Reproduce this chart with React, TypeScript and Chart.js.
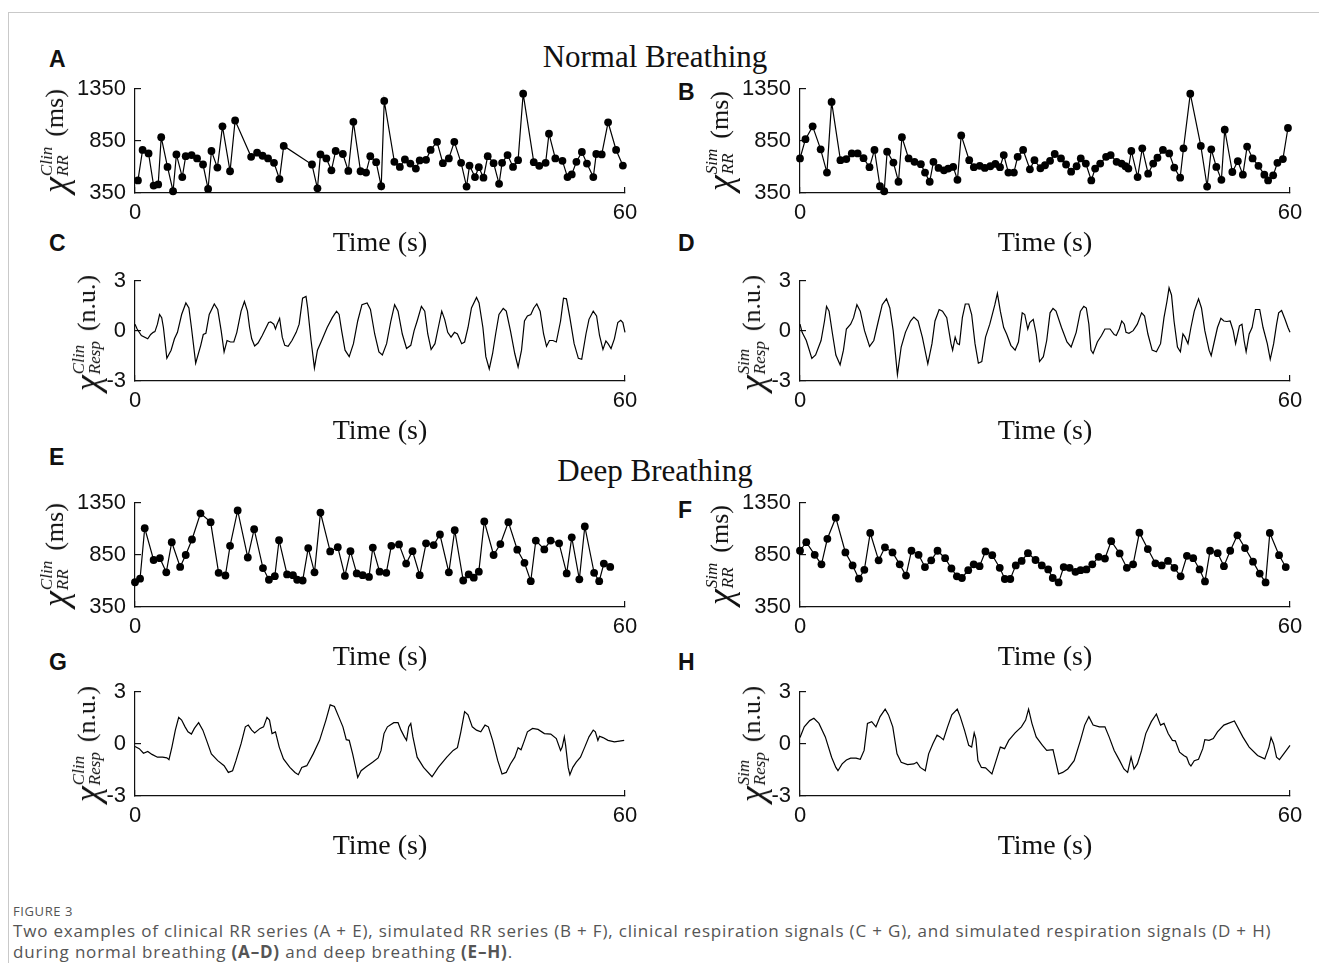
import React, { useEffect, useRef } from "react";
import { Chart, registerables } from "chart.js";

Chart.register(...registerables);

const SERIF = "'Liberation Serif', 'Times New Roman', serif";
const SANS = "'Liberation Sans', Arial, Helvetica, sans-serif";
const INK = "#111111";

// ---------- axes ----------
const X_TICKS = [0, 60];
const RR_TICKS = [350, 850, 1350];
const RESP_TICKS = [-3, 0, 3];
const X_TITLE = "Time (s)";

// ---------- A: clinical RR, normal breathing ----------
const A_TIME = [0.36,0.93,1.66,2.28,2.84,3.21,3.98,4.66,5.07,5.79,
6.21,6.93,7.60,8.33,8.95,9.36,10.09,10.71,11.64,12.26,
14.22,14.95,15.62,16.29,17.02,17.69,18.21,21.67,22.34,22.71,
23.43,24.05,24.57,25.45,26.12,26.74,27.62,28.29,28.81,29.53,
30.15,30.52,31.76,32.43,33.05,33.72,34.39,34.86,35.64,36.20,
36.98,37.70,38.43,39.10,39.93,40.60,40.96,41.63,42.10,42.67,
43.19,43.91,44.58,44.95,45.62,46.29,46.91,47.53,48.83,49.50,
50.28,50.69,51.47,52.34,52.96,53.48,54.05,54.72,55.34,56.12,
56.48,57.15,57.93,58.91,59.74];
const A_RR = [471,764,731,421,432,887,601,367,721,503,
704,715,682,624,389,754,594,991,559,1047,
698,738,708,682,640,484,803,624,395,721,
682,568,754,725,562,1034,559,546,704,646,
415,1235,650,601,672,633,585,663,669,764,
842,637,682,842,640,412,614,503,598,497,
704,637,438,640,715,601,666,1305,646,611,
640,920,682,659,503,529,650,744,633,503,
725,721,1030,764,614];

// ---------- B: simulated RR, normal breathing ----------
const B_TIME = [0.00,0.67,1.55,2.53,3.30,3.87,4.95,5.67,6.34,7.06,
7.78,8.51,9.12,9.79,10.31,10.67,11.44,12.06,12.48,13.30,
14.02,14.80,15.31,15.88,16.34,16.96,17.63,18.15,18.76,19.28,
19.74,20.72,21.29,22.01,22.63,23.30,23.92,24.49,24.95,25.52,
26.19,26.65,27.32,28.15,28.71,29.44,30.00,30.62,31.19,31.96,
32.58,33.20,33.87,34.38,35.00,35.67,36.14,36.76,37.48,38.04,
38.77,39.38,39.85,40.21,40.57,41.34,41.91,42.63,43.25,43.77,
44.44,45.21,45.83,46.55,46.96,47.79,49.08,49.85,50.36,50.98,
51.60,52.01,52.94,53.61,54.23,54.75,55.42,56.14,56.86,57.32,
57.94,58.46,59.13,59.75];
const B_RR = [682,868,991,770,546,1226,666,676,731,731,
685,598,764,415,367,747,643,458,887,682,
650,627,546,458,650,591,568,585,601,477,
904,666,598,611,591,607,630,598,715,546,
546,698,764,578,666,588,617,659,725,682,
624,555,607,682,633,471,585,633,698,715,
650,633,607,585,754,503,780,536,633,689,
764,731,594,497,780,1305,803,412,770,601,
477,959,552,656,526,796,682,611,526,471,
520,640,676,975];

// ---------- C: clinical respiration, normal breathing ----------
const C_TIME = [0.00,0.26,0.78,1.56,1.92,2.23,2.44,2.75,3.01,3.27,
3.48,3.90,4.42,4.83,5.20,5.71,6.23,6.60,6.91,7.43,
8.05,8.36,8.68,9.09,9.71,10.13,10.55,10.91,11.27,11.69,
12.10,12.47,12.99,13.40,13.77,14.03,14.29,14.65,15.07,15.58,
16.36,16.62,16.99,17.20,17.40,17.71,18.03,18.34,18.75,19.22,
19.74,20.10,20.52,20.94,21.14,21.56,21.97,22.34,22.86,23.53,
24.16,24.68,24.99,25.30,25.72,26.23,26.75,27.27,27.79,28.42,
28.83,29.35,29.87,30.29,30.81,31.33,31.79,32.21,32.73,33.25,
33.77,34.18,34.55,35.07,35.48,35.85,36.26,36.73,37.14,37.56,
37.92,38.29,38.70,39.12,39.48,40.00,40.36,40.78,41.20,41.82,
42.13,42.60,42.96,43.38,43.79,44.16,44.57,45.09,45.46,45.97,
46.50,46.91,47.33,47.69,48.05,48.47,48.83,49.20,49.61,50.03,
50.39,50.75,51.17,51.59,52.11,52.47,52.83,53.25,53.77,54.29,
54.70,55.22,55.59,56.11,56.52,56.88,57.30,57.66,57.92,58.29,
58.70,59.12,59.48,59.74,60.00];
const C_RESP = [0.41,0.12,-0.27,-0.47,-0.21,-0.08,-0.04,0.41,0.99,0.80,
0.21,-1.64,-1.15,-0.47,-0.08,0.99,1.68,1.38,0.21,-1.93,
-0.86,-0.21,-0.14,0.99,1.62,1.29,0.02,-1.25,-0.57,-0.66,
-0.66,-0.08,1.19,1.77,1.19,0.21,-0.47,-0.90,-0.72,-0.27,
0.51,0.55,0.41,0.12,0.41,0.76,-0.37,-0.86,-0.92,-0.57,
-0.08,0.41,1.97,2.07,1.38,-0.57,-2.22,-1.15,-0.57,0.21,
0.80,1.19,0.99,0.02,-1.15,-1.54,-0.76,0.60,1.58,1.68,
1.29,-0.18,-1.25,-1.44,-0.76,0.60,1.58,1.19,-0.18,-1.05,
-0.86,0.02,0.60,1.48,1.19,-0.18,-1.11,-0.76,0.21,1.19,
0.70,-0.08,-0.37,-0.08,-0.18,-0.76,-0.66,0.21,1.38,2.01,
1.68,0.21,-1.54,-2.28,-1.35,-0.18,0.99,1.35,1.19,0.02,
-1.35,-2.16,-1.15,0.60,0.90,0.99,1.38,1.62,1.19,-0.18,
-0.92,-0.57,-0.57,-0.66,0.60,1.97,1.93,0.80,-0.76,-1.64,
-1.70,-0.18,0.70,1.19,0.90,-0.27,-1.11,-0.60,-0.76,-1.05,
-0.47,0.51,0.64,0.51,-0.08];

// ---------- D: simulated respiration, normal breathing ----------
const D_TIME = [0.00,0.26,0.77,1.45,1.91,2.58,3.00,3.25,3.56,3.98,
4.39,4.91,5.32,5.68,6.20,6.56,6.97,7.38,7.90,8.52,
9.04,9.55,10.07,10.59,11.00,11.41,11.93,12.39,12.91,13.53,
13.94,14.46,14.98,15.65,16.16,16.53,17.04,17.45,17.97,18.49,
18.69,19.00,19.26,19.52,19.88,20.24,20.66,21.02,21.43,21.84,
22.26,22.72,23.24,23.86,24.17,24.53,24.94,25.30,25.82,26.34,
26.75,27.21,27.52,27.89,28.14,28.56,28.92,29.33,29.80,30.21,
30.62,30.98,31.35,32.02,32.69,33.20,33.82,34.34,34.75,35.06,
35.37,35.63,35.89,36.41,36.92,37.34,37.96,38.47,38.73,39.09,
39.40,39.71,39.92,40.28,40.80,41.31,41.83,42.19,42.60,43.12,
43.64,44.15,44.57,44.93,45.19,45.49,45.80,46.22,46.58,46.89,
47.15,47.51,47.87,48.28,48.80,49.16,49.57,50.09,50.35,50.76,
51.12,51.54,51.90,52.26,52.67,53.04,53.34,53.81,54.12,54.38,
54.63,55.00,55.36,55.77,56.29,56.70,57.22,57.58,58.00,58.36,
58.61,58.97,59.39,59.75,60.00];
const D_RESP = [0.41,-0.08,-0.57,-1.64,-1.44,-0.57,0.60,1.48,1.19,-0.18,
-1.44,-2.03,-1.15,0.12,0.41,0.80,1.58,1.19,0.02,-0.92,
-0.57,0.51,1.58,1.93,1.38,0.02,-2.61,-0.96,-0.08,0.60,
0.84,0.60,-0.37,-1.97,-0.76,0.60,1.29,1.19,0.80,-0.76,
-1.15,-0.37,-0.76,-0.82,0.80,1.62,1.62,0.99,-0.76,-1.93,
-1.83,-0.37,0.41,1.58,2.26,1.19,0.21,-0.18,-0.86,-1.15,
-0.66,1.09,0.99,0.12,0.51,0.70,-0.18,-1.83,-1.54,-0.57,
1.09,1.35,1.19,0.21,-0.66,-0.96,-0.08,1.19,1.48,1.38,
0.41,-1.15,-1.35,-0.66,-0.27,0.12,0.12,-0.21,-0.27,0.12,
0.60,0.41,-0.08,-0.14,0.02,0.41,1.09,0.90,-0.18,-1.15,
-1.25,-0.76,0.80,1.77,2.59,2.16,0.60,-0.96,-1.25,-0.18,
-0.37,-0.76,0.21,1.19,1.93,1.38,0.02,-1.15,-1.48,-0.57,
0.21,0.76,0.60,0.57,0.60,0.02,-0.76,0.31,0.41,-0.57,
-1.25,-0.18,0.21,1.29,1.29,0.21,-0.76,-1.70,-0.76,0.41,
1.09,1.23,0.70,0.21,-0.08];

// ---------- E: clinical RR, deep breathing ----------
const E_TIME = [0.00,0.62,1.19,2.28,3.05,3.83,4.50,5.53,6.21,6.98,
8.02,9.26,10.24,11.07,11.64,12.57,13.81,14.59,15.67,16.40,
17.12,17.64,18.62,19.34,19.86,20.53,21.21,21.98,22.71,23.90,
24.83,25.70,26.38,27.15,27.88,28.65,29.12,29.95,30.77,31.39,
32.33,33.20,33.98,34.86,35.64,36.57,37.34,38.43,39.15,40.19,
40.86,41.48,42.10,42.77,43.91,44.74,45.72,46.81,47.69,48.46,
49.08,50.12,50.89,51.93,52.86,53.48,54.41,55.08,56.22,56.84,
57.41,58.19];
const E_RR = [588,622,1108,802,819,683,973,735,850,999,
1251,1166,679,653,938,1278,826,1098,724,612,
646,993,663,656,612,605,917,683,1258,884,
925,649,887,673,656,639,921,690,679,938,
952,768,887,656,962,945,1047,683,1088,605,
663,632,690,1173,850,955,1166,901,775,598,
989,904,989,962,673,1020,616,1125,679,598,
768,735];

// ---------- F: simulated RR, deep breathing ----------
const F_TIME = [0.00,0.77,1.80,2.63,3.35,4.38,5.56,6.44,7.21,7.88,
8.60,9.63,10.40,11.33,12.21,12.98,13.65,14.52,15.30,16.07,
16.84,17.77,18.54,19.21,19.83,20.60,21.27,21.99,22.71,23.54,
24.46,25.08,25.75,26.42,27.14,27.91,28.84,29.61,30.39,30.95,
31.67,32.29,33.01,33.73,34.35,35.07,35.79,36.57,37.34,38.11,
39.14,40.02,40.79,41.56,42.59,43.52,44.29,45.06,45.84,46.61,
47.38,48.15,48.93,49.59,50.21,51.14,51.91,52.68,53.56,54.49,
55.47,56.29,57.01,57.53,58.66,59.48];
const F_RR = [891,973,852,760,1006,1209,875,750,622,707,
1062,799,924,875,760,652,891,852,734,799,
891,819,720,645,629,704,760,743,884,848,
727,619,619,750,793,868,802,750,711,629,
586,734,727,688,704,711,760,832,816,983,
865,727,760,1065,907,770,750,793,727,645,
842,819,711,596,891,868,743,891,1039,917,
786,671,586,1062,848,734];

// ---------- G: clinical respiration, deep breathing ----------
const G_TIME = [0.00,0.52,1.04,1.56,2.08,2.75,3.38,3.90,4.16,4.52,
4.94,5.35,5.71,6.13,6.49,6.91,7.27,7.79,8.31,8.83,
9.35,10.13,10.91,11.43,11.95,12.36,12.99,13.51,13.87,14.29,
14.65,15.32,15.74,16.16,16.47,16.78,17.20,17.66,18.18,18.96,
19.59,20.00,20.42,21.04,21.82,22.60,23.38,23.90,24.42,24.94,
25.46,25.87,26.23,26.65,27.01,27.27,27.69,28.31,29.09,29.77,
30.13,30.49,30.91,31.69,32.21,32.57,32.99,33.25,33.51,33.77,
34.03,34.55,35.33,36.37,37.14,38.18,38.96,39.48,39.90,40.36,
40.78,41.30,41.82,42.34,42.86,43.27,43.79,44.42,44.94,45.46,
45.97,46.50,46.91,47.27,47.69,48.05,48.68,49.35,50.13,50.91,
51.59,52.11,52.31,52.57,52.73,53.04,53.25,53.61,54.03,54.55,
55.07,55.59,56.11,56.37,56.68,56.88,57.30,57.92,58.70,59.90];
const G_RESP = [-0.14,-0.27,-0.53,-0.43,-0.60,-0.76,-0.76,-0.80,-0.90,-0.18,
0.80,1.54,1.38,0.99,0.70,0.57,0.90,1.23,0.80,0.12,
-0.57,-0.96,-1.25,-1.64,-1.54,-0.96,0.02,0.99,1.09,0.80,
0.64,0.90,0.99,1.54,1.38,0.60,0.70,-0.18,-0.86,-1.35,
-1.64,-1.77,-1.35,-1.25,-0.57,0.21,1.38,2.26,2.16,1.58,
0.99,0.25,0.21,-0.57,-1.35,-1.93,-1.54,-1.31,-1.05,-0.80,
-0.37,0.60,0.99,1.23,1.23,0.80,0.41,0.21,0.99,1.19,
0.41,-0.76,-1.35,-1.89,-1.35,-0.76,-0.37,-0.21,0.70,1.87,
1.68,0.99,0.80,0.70,1.09,0.99,0.21,-0.96,-1.73,-1.64,
-1.15,-0.76,-0.21,-0.33,0.21,0.70,0.90,0.84,0.60,0.57,
0.31,-0.37,-0.18,0.41,-0.08,-1.35,-1.77,-1.35,-1.05,-0.76,
-0.18,0.41,0.80,0.70,0.21,0.45,0.37,0.21,0.12,0.21];

// ---------- H: simulated respiration, deep breathing ----------
const H_TIME = [0.00,0.52,1.19,1.70,2.32,3.10,3.87,4.39,4.65,5.16,
5.68,6.20,6.87,7.38,7.85,8.26,8.78,9.30,9.81,10.43,
10.84,11.36,11.88,12.39,13.17,13.94,14.30,14.72,15.34,15.75,
16.27,16.78,17.14,17.56,18.07,18.59,19.26,19.62,20.14,20.66,
21.02,21.33,21.53,21.79,22.21,22.72,23.50,24.01,24.53,25.05,
25.56,26.34,27.11,27.63,27.99,28.40,28.92,29.69,30.21,30.98,
31.24,31.66,32.17,32.79,33.57,34.34,34.86,35.37,35.89,36.66,
37.34,37.85,38.47,39.14,39.66,40.12,40.54,40.90,41.31,41.83,
42.34,43.02,43.64,44.15,44.57,45.08,45.60,45.96,46.48,46.99,
47.35,47.66,47.87,48.28,48.80,49.32,49.57,50.09,50.61,51.12,
51.90,53.19,54.22,55.00,56.03,56.91,57.42,57.68,57.99,58.35,
58.71,59.39,60.00];
const H_RESP = [0.37,0.99,1.35,1.48,1.19,0.41,-0.76,-1.35,-1.54,-1.15,
-0.92,-0.82,-0.82,-0.88,-0.37,1.19,1.29,0.99,1.58,2.01,
1.68,0.99,-0.57,-1.05,-1.19,-1.15,-1.05,-1.35,-1.54,-0.57,
0.02,0.51,0.41,0.25,0.99,1.68,2.01,1.58,0.80,-0.08,
-0.18,0.64,0.31,-0.96,-1.35,-1.38,-1.73,-0.96,-0.18,-0.27,
0.21,0.64,0.99,1.38,2.01,1.19,0.41,-0.08,-0.37,-0.33,
-0.86,-1.73,-1.64,-1.44,-0.96,0.21,1.09,1.58,1.09,0.99,
0.99,0.41,-0.37,-0.96,-1.44,-1.64,-0.76,-1.44,-1.15,-0.37,
0.60,1.29,1.73,1.09,1.19,0.60,0.21,0.18,-0.47,-0.66,
-0.76,-1.15,-1.27,-0.96,-0.88,-0.27,0.25,0.21,0.31,0.70,
1.09,1.33,0.41,-0.18,-0.66,-0.86,-0.18,0.37,0.02,-0.76,
-0.90,-0.47,-0.08];

// ---------- layout (page pixels) ----------
const PAD_L = 70; // room for y tick labels
const PAD_T = 32; // >= half label height + tick padding
const PAD_R = 32;
const X_BOX = 67; // x tick labels + title

type PanelProps = {
  left: number; top: number; width: number; height: number;
  t: number[]; v: number[]; markers: boolean;
  yTicks: number[];
};

function Panel({ left, top, width, height, t, v, markers, yTicks }: PanelProps) {
  const ref = useRef<HTMLCanvasElement | null>(null);
  const cw = width + PAD_L + PAD_R;
  const ch = height + PAD_T + X_BOX;
  useEffect(() => {
    if (!ref.current) return;
    const yMin = yTicks[0];
    const yMax = yTicks[yTicks.length - 1];
    const chart = new Chart(ref.current, {
      type: "scatter",
      data: {
        datasets: [
          {
            data: t.map((x, i) => ({ x, y: v[i] })),
            showLine: true,
            borderColor: "#000",
            borderWidth: 1.2,
            pointRadius: markers ? 3.9 : 0,
            pointHoverRadius: markers ? 3.9 : 0,
            pointBackgroundColor: "#000",
            pointBorderColor: "#000",
            pointBorderWidth: 0,
            tension: 0,
            clip: false,
          } as any,
        ],
      },
      options: {
        animation: false,
        responsive: false,
        maintainAspectRatio: false,
        events: [],
        layout: { padding: { left: 0, top: PAD_T, right: PAD_R, bottom: 0 } },
        plugins: { legend: { display: false }, tooltip: { enabled: false } },
        scales: {
          x: {
            type: "linear",
            min: 0,
            max: 60,
            afterBuildTicks: (s: any) => { s.ticks = X_TICKS.map((value) => ({ value })); },
            afterFit: (s: any) => { s.height = X_BOX; },
            grid: { drawOnChartArea: false, drawTicks: true, tickLength: -6, color: INK, lineWidth: 1.2 },
            border: { display: true, color: INK, width: 1.2 },
            ticks: {
              padding: 13,
              autoSkip: false,
              maxRotation: 0,
              color: INK,
              font: { family: SANS, size: 22 },
              callback: (val: any) => String(val),
            },
            title: {
              display: true,
              text: X_TITLE,
              color: INK,
              font: { family: SERIF, size: 28 },
              padding: { top: 0, bottom: 0 },
            },
          },
          y: {
            type: "linear",
            min: yMin,
            max: yMax,
            afterBuildTicks: (s: any) => { s.ticks = yTicks.map((value) => ({ value })); },
            afterFit: (s: any) => { s.width = PAD_L; },
            grid: { drawOnChartArea: false, drawTicks: true, tickLength: -6, color: INK, lineWidth: 1.2 },
            border: { display: true, color: INK, width: 1.2 },
            ticks: {
              padding: 15,
              autoSkip: false,
              color: INK,
              font: { family: SANS, size: 22 },
              callback: (val: any) => String(val),
            },
          },
        },
      } as any,
    });
    return () => chart.destroy();
  }, []);
  return (
    <div style={{ position: "absolute", left: left - PAD_L, top: top - PAD_T, width: cw, height: ch }}>
      <canvas ref={ref} width={cw} height={ch} style={{ width: cw, height: ch, display: "block" }} />
    </div>
  );
}

function YTitle({ cx, cy, sup, sub, unit }: { cx: number; cy: number; sup: string; sub: string; unit: string }) {
  return (
    <div
      style={{
        position: "absolute",
        left: cx,
        top: cy,
        transform: "translate(-50%, -50%) rotate(-90deg)",
        whiteSpace: "nowrap",
        fontFamily: SERIF,
        color: INK,
        display: "flex",
        alignItems: "center",
      }}
    >
      <span style={{ fontStyle: "italic", fontSize: 36, lineHeight: "34px" }}>χ</span>
      <span style={{ display: "inline-flex", flexDirection: "column", fontStyle: "italic", fontSize: 17, lineHeight: "16px", marginLeft: 1 }}>
        <span>{sup}</span>
        <span>{sub}</span>
      </span>
      <span style={{ fontSize: 26, marginLeft: 10 }}>({unit})</span>
    </div>
  );
}

function Letter({ x, y, ch }: { x: number; y: number; ch: string }) {
  return (
    <div style={{ position: "absolute", left: x, top: y - 12, fontFamily: SANS, fontWeight: 700, fontSize: 23, lineHeight: "24px", color: INK }}>
      {ch}
    </div>
  );
}

function GroupTitle({ cx, cy, text }: { cx: number; cy: number; text: string }) {
  return (
    <div style={{ position: "absolute", left: cx - 250, top: cy - 18, width: 500, textAlign: "center", fontFamily: SERIF, fontSize: 31, lineHeight: "36px", color: INK }}>
      {text}
    </div>
  );
}

const COL_L = 135;
const COL_R = 800;
const PLOT_W = 490;
const PLOT_H = 104;
const ROW_TOP = [89, 281, 503, 692];

const CAPTION_FONT = "'Open Sans', 'Noto Sans', sans-serif";

export default function App() {
  return (
    <div style={{ position: "absolute", left: 0, top: 0, width: 1319, height: 974, background: "#fff", overflow: "hidden" }}>
      <div style={{ position: "absolute", left: 8, top: 12, width: 1311, height: 950, borderTop: "1px solid #c9c9c9", borderLeft: "1px solid #c9c9c9" }} />

      <GroupTitle cx={655} cy={57} text="Normal Breathing" />
      <GroupTitle cx={655} cy={471} text="Deep Breathing" />

      <Letter x={49} y={59} ch="A" />
      <Letter x={678} y={92} ch="B" />
      <Letter x={49} y={243} ch="C" />
      <Letter x={678} y={243} ch="D" />
      <Letter x={49} y={457} ch="E" />
      <Letter x={678} y={510} ch="F" />
      <Letter x={49} y={662} ch="G" />
      <Letter x={678} y={662} ch="H" />

      <Panel left={COL_L} top={ROW_TOP[0]} width={PLOT_W} height={PLOT_H} t={A_TIME} v={A_RR} markers yTicks={RR_TICKS} />
      <Panel left={COL_R} top={ROW_TOP[0]} width={PLOT_W} height={PLOT_H} t={B_TIME} v={B_RR} markers yTicks={RR_TICKS} />
      <Panel left={COL_L} top={ROW_TOP[1]} width={PLOT_W} height={PLOT_H - 4} t={C_TIME} v={C_RESP} markers={false} yTicks={RESP_TICKS} />
      <Panel left={COL_R} top={ROW_TOP[1]} width={PLOT_W} height={PLOT_H - 4} t={D_TIME} v={D_RESP} markers={false} yTicks={RESP_TICKS} />
      <Panel left={COL_L} top={ROW_TOP[2]} width={PLOT_W} height={PLOT_H} t={E_TIME} v={E_RR} markers yTicks={RR_TICKS} />
      <Panel left={COL_R} top={ROW_TOP[2]} width={PLOT_W} height={PLOT_H} t={F_TIME} v={F_RR} markers yTicks={RR_TICKS} />
      <Panel left={COL_L} top={ROW_TOP[3]} width={PLOT_W} height={PLOT_H} t={G_TIME} v={G_RESP} markers={false} yTicks={RESP_TICKS} />
      <Panel left={COL_R} top={ROW_TOP[3]} width={PLOT_W} height={PLOT_H} t={H_TIME} v={H_RESP} markers={false} yTicks={RESP_TICKS} />

      <YTitle cx={COL_L - 80} cy={ROW_TOP[0] + PLOT_H / 2} sup="Clin" sub="RR" unit="ms" />
      <YTitle cx={COL_R - 80} cy={ROW_TOP[0] + PLOT_H / 2} sup="Sim" sub="RR" unit="ms" />
      <YTitle cx={COL_L - 48} cy={ROW_TOP[1] + PLOT_H / 2} sup="Clin" sub="Resp" unit="n.u." />
      <YTitle cx={COL_R - 48} cy={ROW_TOP[1] + PLOT_H / 2} sup="Sim" sub="Resp" unit="n.u." />
      <YTitle cx={COL_L - 80} cy={ROW_TOP[2] + PLOT_H / 2} sup="Clin" sub="RR" unit="ms" />
      <YTitle cx={COL_R - 80} cy={ROW_TOP[2] + PLOT_H / 2} sup="Sim" sub="RR" unit="ms" />
      <YTitle cx={COL_L - 48} cy={ROW_TOP[3] + PLOT_H / 2} sup="Clin" sub="Resp" unit="n.u." />
      <YTitle cx={COL_R - 48} cy={ROW_TOP[3] + PLOT_H / 2} sup="Sim" sub="Resp" unit="n.u." />

      <div style={{ position: "absolute", left: 13, top: 903, fontFamily: CAPTION_FONT, fontSize: 13, lineHeight: "16px", color: "#555", letterSpacing: 0.6 }}>
        FIGURE 3
      </div>
      <div style={{ position: "absolute", left: 13, top: 920, width: 1300, fontFamily: CAPTION_FONT, fontSize: 17, lineHeight: "21px", color: "#555", letterSpacing: 0.82, whiteSpace: "nowrap" }}>
        Two examples of clinical RR series (A + E), simulated RR series (B + F), clinical respiration signals (C + G), and simulated respiration signals (D + H)
        <br />
        during normal breathing <b>(A–D)</b> and deep breathing <b>(E–H)</b>.
      </div>
    </div>
  );
}
